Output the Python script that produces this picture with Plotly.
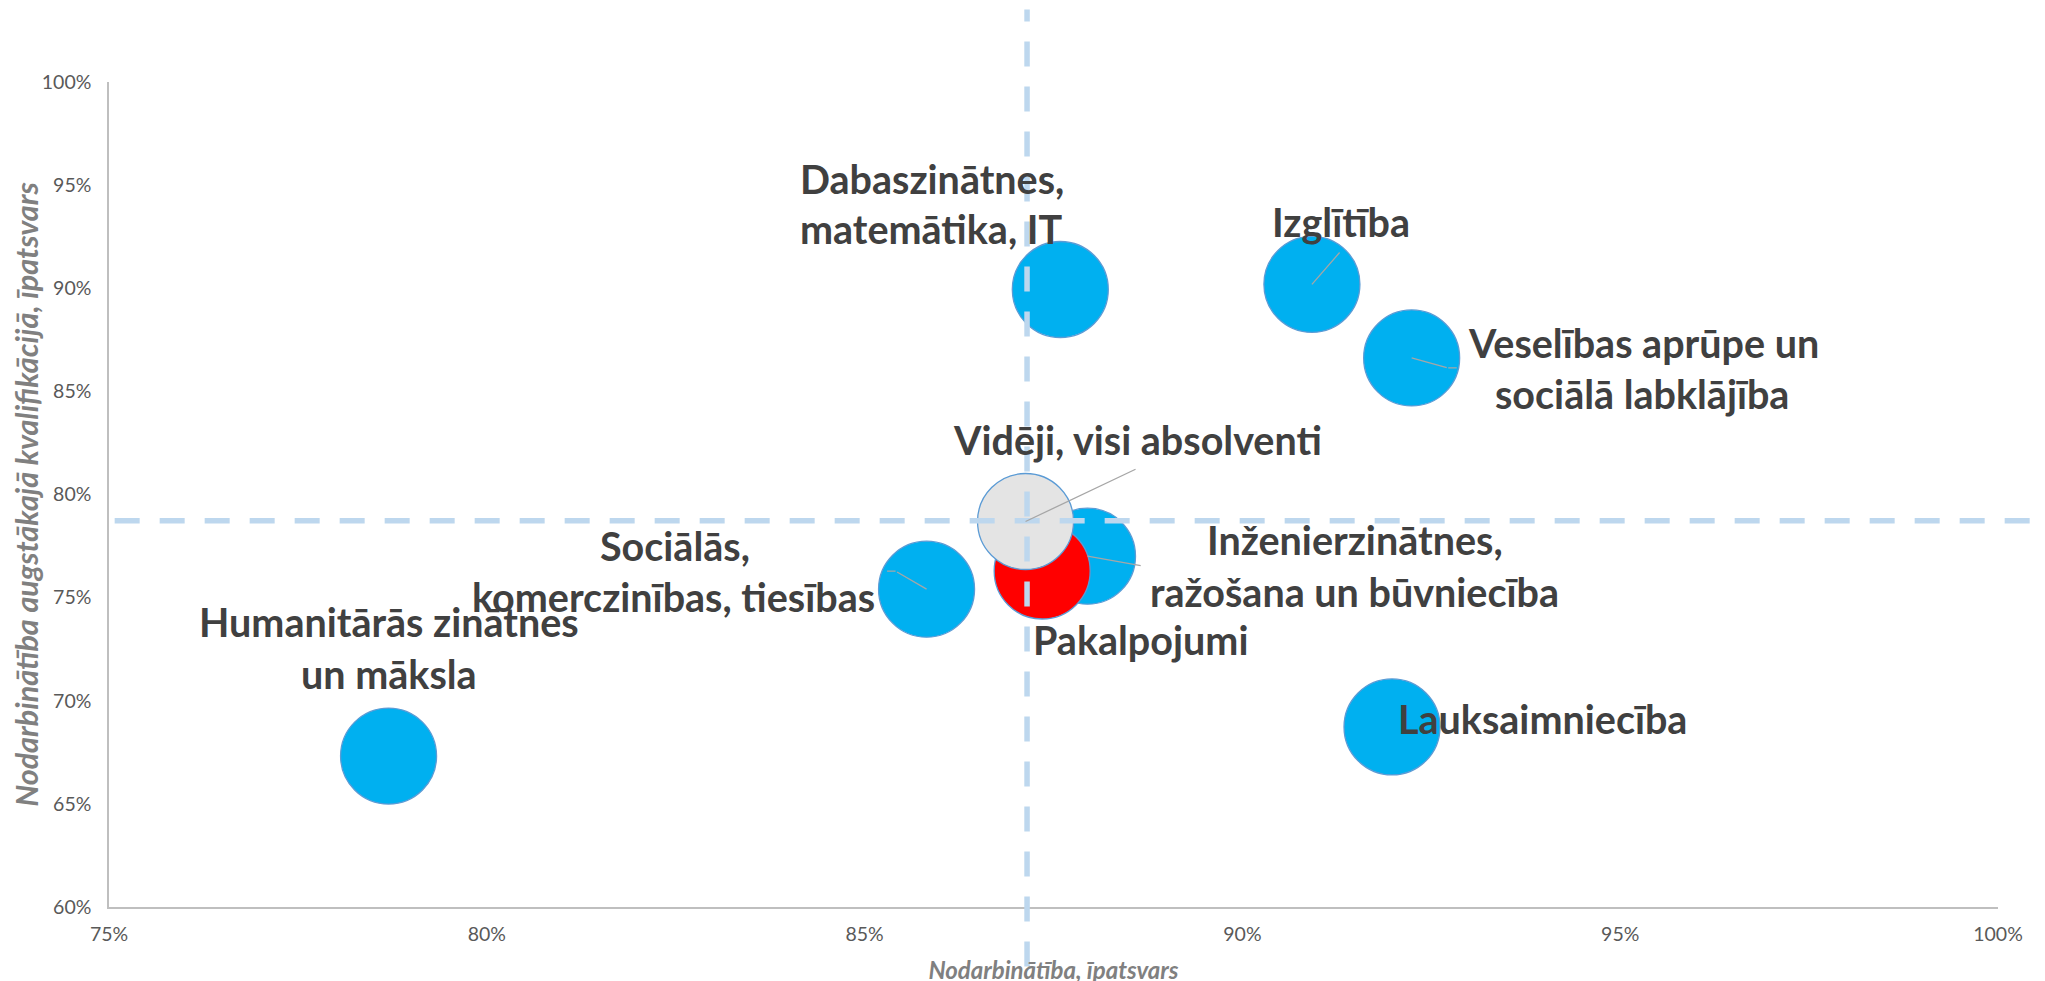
import plotly.graph_objects as go

# ---------------- data ----------------
categories = [
    "Humanitārās zinātnes un māksla",
    "Sociālās, komerczinības, tiesības",
    "Dabaszinātnes, matemātika, IT",
    "Izglītība",
    "Veselības aprūpe un sociālā labklājība",
    "Lauksaimniecība",
    "Inženierzinātnes, ražošana un būvniecība",
    "Pakalpojumi",
    "Vidēji, visi absolventi",
]
employment = [78.70, 85.82, 87.59, 90.92, 92.24, 91.98, 87.95, 87.35, 87.13]
employment_high_qual = [67.32, 75.41, 89.94, 90.19, 86.62, 68.73, 77.01, 76.29, 78.69]
point_colors = ["#00B0F0"] * 7 + ["#FF0000", "#E4E4E4"]

avg_employment = 87.15
avg_high_qual = 78.73

x_ticks = [75, 80, 85, 90, 95, 100]
x_tick_labels = ["75%", "80%", "85%", "90%", "95%", "100%"]
y_ticks = [60, 65, 70, 75, 80, 85, 90, 95, 100]
y_tick_labels = ["60%", "65%", "70%", "75%", "80%", "85%", "90%", "95%", "100%"]

x_title = "Nodarbinātība, īpatsvars"
y_title = "Nodarbinātība augstākajā kvalifikācijā, īpatsvars"

# ---------------- label layout (pixel offsets from the bubble centre) ----------------
# each line: (text, dx, baseline dy (screen, down positive))
LABEL_FS = 39.5
label_lines = {
    categories[0]: ("center", [("Humanitārās zinātnes", 0.7, -120.8), ("un māksla", 0, -68.5)]),
    categories[1]: ("center", [("Sociālās,", -251.5, -29.7), ("komerczinības, tiesības", -252.7, 21)]),
    categories[2]: ("left", [("Dabaszinātnes,", -262.2, -97.6), ("matemātika, IT", -262.2, -47.6)]),
    categories[3]: ("center", [("Izglītība", 28.6, -49.2)]),
    categories[4]: ("left", [("Veselības aprūpe un", 54.3, -2), ("sociālā labklājība", 81, 49)]),
    categories[5]: ("center", [("Lauksaimniecība", 150.7, 5.6)]),
    categories[6]: ("center", [("Inženierzinātnes,", 267.3, -2.7), ("ražošana un būvniecība", 267.3, 49)]),
    categories[7]: ("center", [("Pakalpojumi", 98, 82.5)]),
    categories[8]: ("center", [("Vidēji, visi absolventi", 111.7, -68.3)]),
}
# leader lines: list of (start shift dx, dy, segment ax, ay) in pixels
leaders = {
    categories[1]: [(0, 0, -31, -18), (-31, -18, -10, 0)],
    categories[3]: [(0, 0, 29, -33.3)],
    categories[4]: [(0, 0, 36.6, 10), (36.6, 10, 10, 0)],
    categories[6]: [(0, 0, 54.7, 9.7)],
    categories[8]: [(0, 0, 111.5, -53)],
}

fig = go.Figure()
fig.add_trace(go.Scatter(
    x=employment, y=employment_high_qual, mode="markers",
    marker=dict(size=96, color=point_colors, opacity=1,
                line=dict(color="#5B9BD5", width=1.3)),
    text=categories, hoverinfo="text", showlegend=False, cliponaxis=False,
))

annotations = []
for name, xv, yv in zip(categories, employment, employment_high_qual):
    for (sx, sy, ax, ay) in leaders.get(name, []):
        annotations.append(dict(
            x=xv, y=yv, xref="x", yref="y", text="", showarrow=True,
            arrowhead=0, arrowwidth=1.3, arrowcolor="#A6A6A6",
            ax=ax, ay=ay, xshift=sx, yshift=-sy, standoff=0, startstandoff=0,
        ))
for name, xv, yv in zip(categories, employment, employment_high_qual):
    align, lines = label_lines[name]
    for (txt, dx, dy) in lines:
        annotations.append(dict(
            x=xv, y=yv, xref="x", yref="y", text=txt, showarrow=False,
            xanchor=align, yanchor="middle", xshift=dx, yshift=-dy + 0.35 * LABEL_FS,
            font=dict(family="Lato", size=LABEL_FS, color="#404040", weight="bold"),
        ))

line_style = dict(color="#BDD7EE", width=5.5, dash="25px,20px")
shapes = [
    dict(type="line", xref="x", yref="paper", x0=avg_employment, x1=avg_employment,
         y0=-0.072, y1=1.088, line=line_style, layer="above"),
    dict(type="line", xref="paper", yref="y", x0=0.003, x1=1.03,
         y0=avg_high_qual, y1=avg_high_qual, line=line_style, layer="above"),
]

fig.update_layout(
    width=2045, height=981,
    margin=dict(l=101, r=55, t=74, b=82, autoexpand=False),
    paper_bgcolor="white", plot_bgcolor="white",
    font=dict(family="Lato", color="#595959"),
    annotations=annotations, shapes=shapes,
    xaxis=dict(range=[75, 100], tickvals=x_ticks, ticktext=x_tick_labels, showgrid=False,
               zeroline=False, showline=True, linecolor="#BFBFBF", linewidth=1.5,
               ticks="", ticklabelstandoff=9, automargin=False,
               tickfont=dict(size=19.5, color="#595959"),
               title=dict(text=x_title, standoff=18,
                          font=dict(size=24, color="#808080", style="italic", weight="bold"))),
    yaxis=dict(range=[60, 100], tickvals=y_ticks, ticktext=y_tick_labels, showgrid=False,
               zeroline=False, showline=True, linecolor="#BFBFBF", linewidth=1.5,
               ticks="", ticklabelstandoff=12, automargin=False,
               tickfont=dict(size=19.5, color="#595959"),
               title=dict(text=y_title, standoff=11,
                          font=dict(size=30.5, color="#808080", style="italic", weight="bold"))),
)

fig.write_html("out.html")
